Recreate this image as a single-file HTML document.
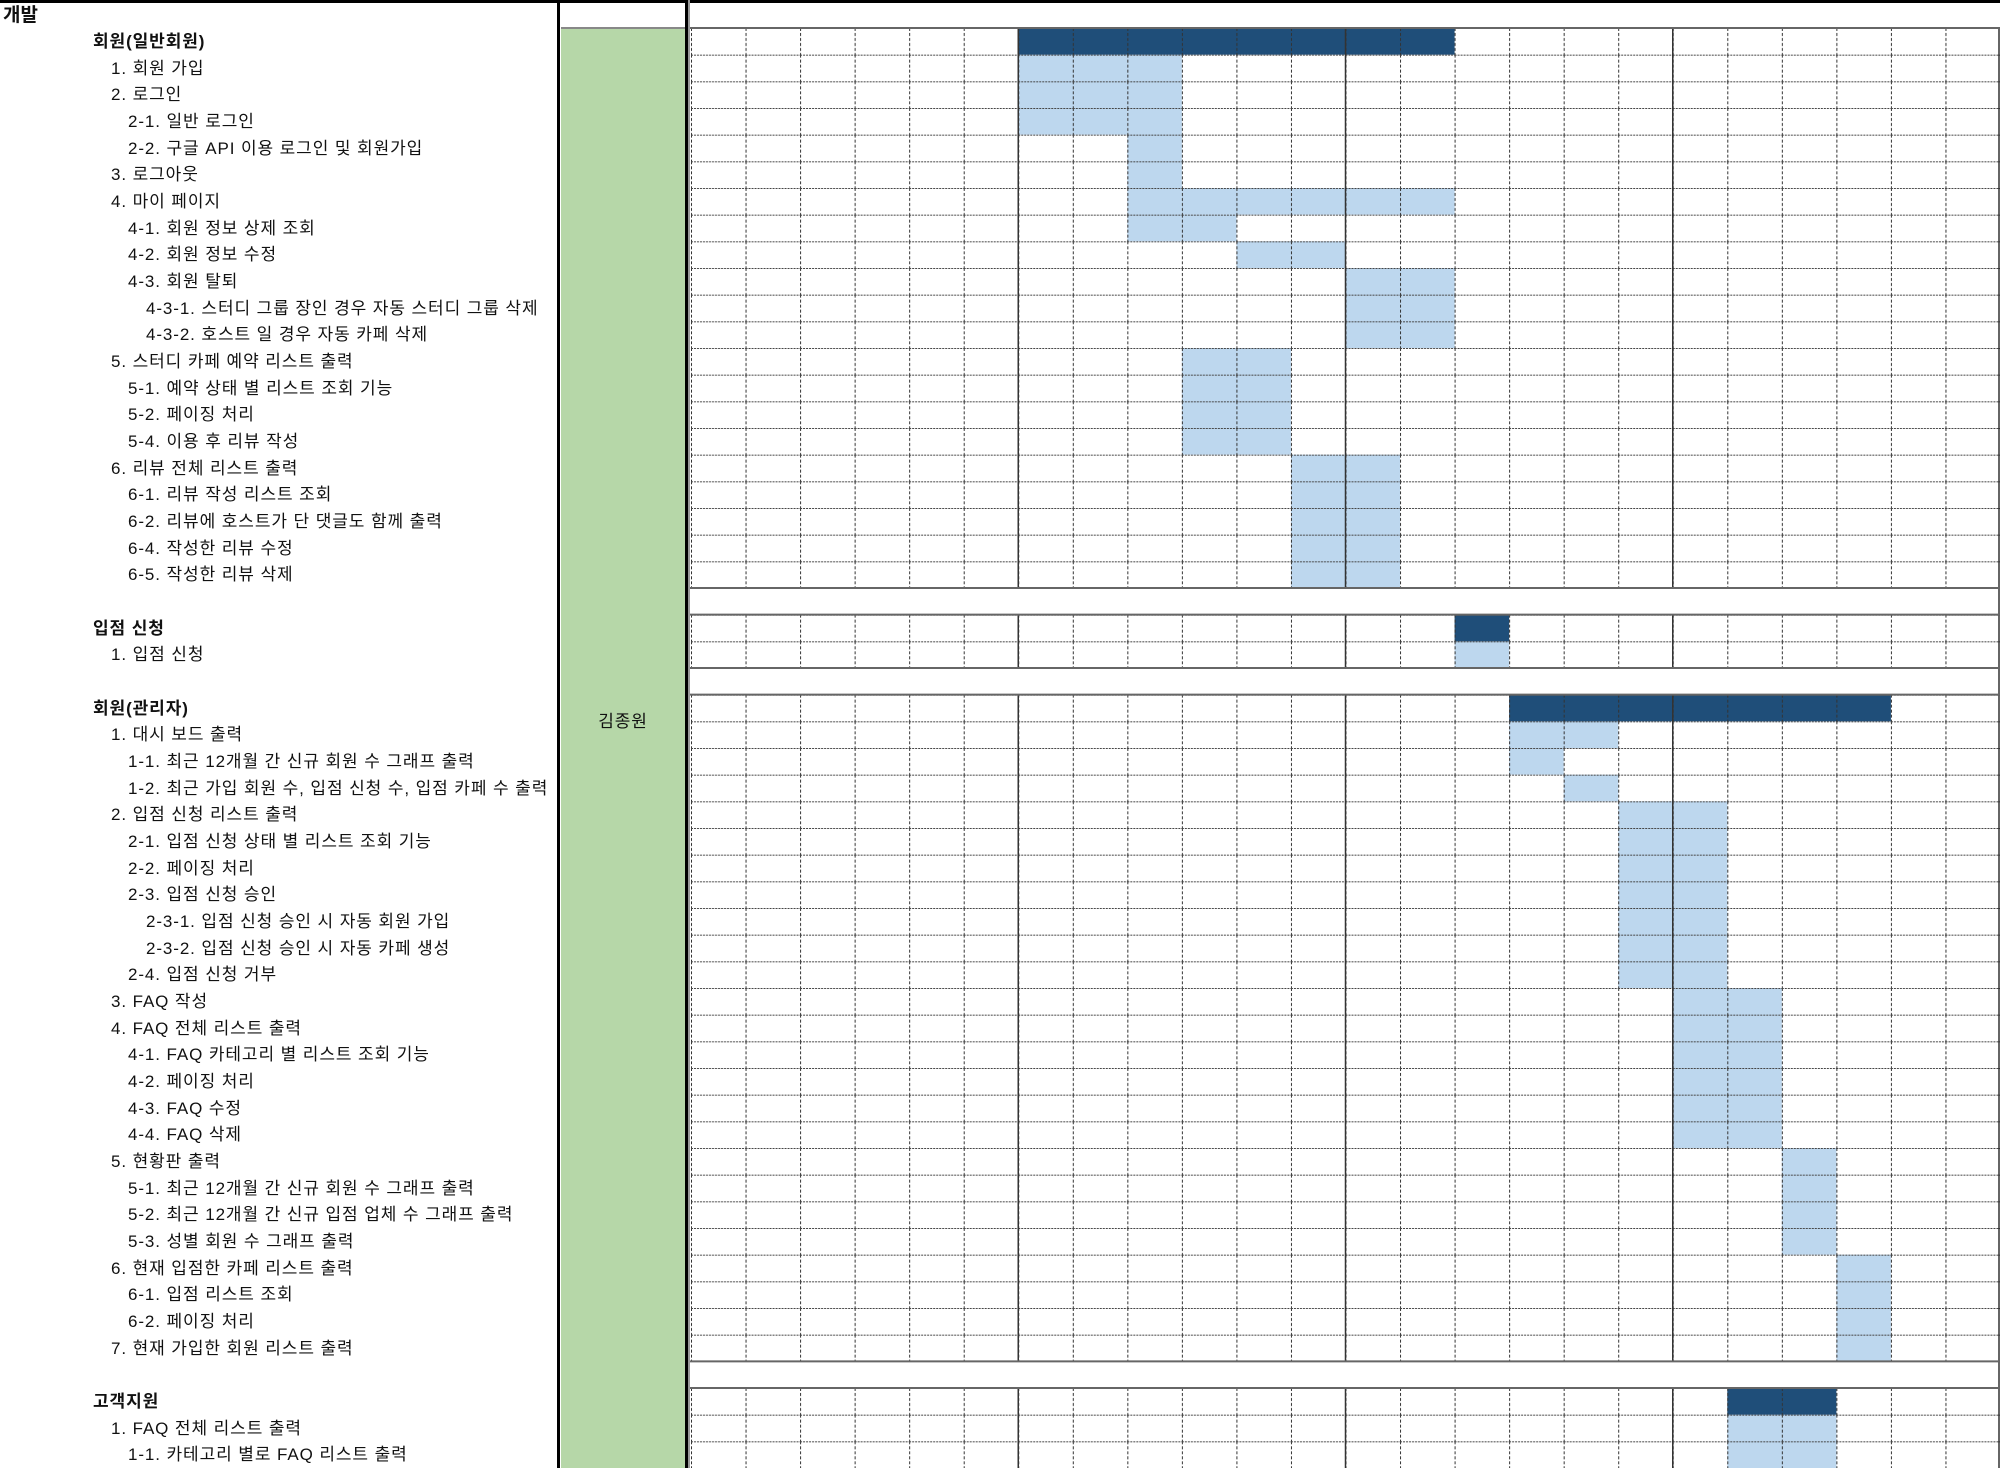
<!DOCTYPE html>
<html><head><meta charset="utf-8"><style>
html,body{margin:0;padding:0;background:#fff;}
svg{display:block;}
text{font-family:"Liberation Sans","Noto Sans CJK KR",sans-serif;font-size:17px;letter-spacing:0.9px;fill:#111;}
.b{font-weight:bold;}
</style></head><body>
<svg width="2000" height="1468" viewBox="0 0 2000 1468" xmlns="http://www.w3.org/2000/svg">
<defs>
<pattern id="g" patternUnits="userSpaceOnUse" x="691" y="28" width="54.5417" height="26.6667">
<line x1="0.5" y1="0" x2="0.5" y2="26.6667" stroke="#333" stroke-width="1" stroke-dasharray="3 2"/>
<line x1="0" y1="0.5" x2="54.5417" y2="0.5" stroke="#444" stroke-width="1" stroke-dasharray="2 1"/>
</pattern>
</defs>
<rect width="2000" height="1468" fill="#fff"/>
<rect x="561" y="28" width="125" height="1440" fill="#b6d7a8"/>
<g fill="#bdd7ee">
<rect x="1018.25" y="54.67" width="163.63" height="53.33"/>
<rect x="1018.25" y="108" width="109.08" height="26.67"/>
<rect x="1127.33" y="108" width="54.55" height="133.33"/>
<rect x="1181.88" y="188" width="272.7" height="26.67"/>
<rect x="1181.88" y="214.67" width="54.54" height="26.67"/>
<rect x="1236.42" y="241.33" width="109.08" height="26.67"/>
<rect x="1345.5" y="268" width="109.08" height="80"/>
<rect x="1181.88" y="348" width="109.08" height="106.67"/>
<rect x="1290.96" y="454.67" width="109.08" height="133.33"/>
<rect x="1454.58" y="641.33" width="54.55" height="26.67"/>
<rect x="1509.13" y="721.33" width="109.08" height="26.67"/>
<rect x="1509.13" y="748" width="54.54" height="26.67"/>
<rect x="1563.67" y="774.67" width="54.54" height="26.67"/>
<rect x="1618.21" y="801.33" width="109.08" height="186.67"/>
<rect x="1672.75" y="988" width="109.08" height="160"/>
<rect x="1781.83" y="1148" width="54.55" height="106.67"/>
<rect x="1836.38" y="1254.67" width="54.54" height="106.66"/>
<rect x="1727.29" y="1414.67" width="109.09" height="53.33"/>
</g>
<g fill="#1f4e79">
<rect x="1018.25" y="28" width="436.33" height="26.67"/>
<rect x="1454.58" y="614.67" width="54.55" height="26.66"/>
<rect x="1509.13" y="694.67" width="381.79" height="26.66"/>
<rect x="1727.29" y="1388" width="109.09" height="26.67"/>
</g>
<rect x="691" y="28" width="1309" height="560" fill="url(#g)"/>
<rect x="691" y="614.67" width="1309" height="53.33" fill="url(#g)"/>
<rect x="691" y="694.67" width="1309" height="666.66" fill="url(#g)"/>
<rect x="691" y="1388" width="1309" height="80" fill="url(#g)"/>
<g stroke="#333" stroke-width="1.5">
<line x1="1018.25" y1="28" x2="1018.25" y2="588"/><line x1="1345.5" y1="28" x2="1345.5" y2="588"/><line x1="1672.75" y1="28" x2="1672.75" y2="588"/>
<line x1="1018.25" y1="614.67" x2="1018.25" y2="668"/><line x1="1345.5" y1="614.67" x2="1345.5" y2="668"/><line x1="1672.75" y1="614.67" x2="1672.75" y2="668"/>
<line x1="1018.25" y1="694.67" x2="1018.25" y2="1361.33"/><line x1="1345.5" y1="694.67" x2="1345.5" y2="1361.33"/><line x1="1672.75" y1="694.67" x2="1672.75" y2="1361.33"/>
<line x1="1018.25" y1="1388" x2="1018.25" y2="1468"/><line x1="1345.5" y1="1388" x2="1345.5" y2="1468"/><line x1="1672.75" y1="1388" x2="1672.75" y2="1468"/>
<line x1="1999" y1="28" x2="1999" y2="1468"/>
</g>
<g stroke="#666" stroke-width="2">
<line x1="689" y1="28" x2="2000" y2="28"/>
<line x1="689" y1="588" x2="2000" y2="588"/>
<line x1="689" y1="614.67" x2="2000" y2="614.67"/>
<line x1="689" y1="668" x2="2000" y2="668"/>
<line x1="689" y1="694.67" x2="2000" y2="694.67"/>
<line x1="689" y1="1361.33" x2="2000" y2="1361.33"/>
<line x1="689" y1="1388" x2="2000" y2="1388"/>
<line x1="561" y1="28" x2="686" y2="28" stroke="#888"/>
</g>
<rect x="0" y="0" width="2000" height="3" fill="#000"/>
<rect x="557" y="0" width="3" height="1468" fill="#000"/>
<rect x="685" y="0" width="3" height="1468" fill="#000"/>
<rect x="688" y="0" width="2" height="1468" fill="#999"/>
<text x="3" y="21" class="b" style="font-size:19px;letter-spacing:0">개발</text>
<text x="623" y="727" text-anchor="middle">김종원</text>
<text x="93" y="47" class="b">회원(일반회원)</text>
<text x="111" y="74">1. 회원 가입</text>
<text x="111" y="100">2. 로그인</text>
<text x="128" y="127">2-1. 일반 로그인</text>
<text x="128" y="154">2-2. 구글 API 이용 로그인 및 회원가입</text>
<text x="111" y="180">3. 로그아웃</text>
<text x="111" y="207">4. 마이 페이지</text>
<text x="128" y="234">4-1. 회원 정보 상제 조회</text>
<text x="128" y="260">4-2. 회원 정보 수정</text>
<text x="128" y="287">4-3. 회원 탈퇴</text>
<text x="146" y="314">4-3-1. 스터디 그룹 장인 경우 자동 스터디 그룹 삭제</text>
<text x="146" y="340">4-3-2. 호스트 일 경우 자동 카페 삭제</text>
<text x="111" y="367">5. 스터디 카페 예약 리스트 출력</text>
<text x="128" y="394">5-1. 예약 상태 별 리스트 조회 기능</text>
<text x="128" y="420">5-2. 페이징 처리</text>
<text x="128" y="447">5-4. 이용 후 리뷰 작성</text>
<text x="111" y="474">6. 리뷰 전체 리스트 출력</text>
<text x="128" y="500">6-1. 리뷰 작성 리스트 조회</text>
<text x="128" y="527">6-2. 리뷰에 호스트가 단 댓글도 함께 출력</text>
<text x="128" y="554">6-4. 작성한 리뷰 수정</text>
<text x="128" y="580">6-5. 작성한 리뷰 삭제</text>
<text x="93" y="634" class="b">입점 신청</text>
<text x="111" y="660">1. 입점 신청</text>
<text x="93" y="714" class="b">회원(관리자)</text>
<text x="111" y="740">1. 대시 보드 출력</text>
<text x="128" y="767">1-1. 최근 12개월 간 신규 회원 수 그래프 출력</text>
<text x="128" y="794">1-2. 최근 가입 회원 수, 입점 신청 수, 입점 카페 수 출력</text>
<text x="111" y="820">2. 입점 신청 리스트 출력</text>
<text x="128" y="847">2-1. 입점 신청 상태 별 리스트 조회 기능</text>
<text x="128" y="874">2-2. 페이징 처리</text>
<text x="128" y="900">2-3. 입점 신청 승인</text>
<text x="146" y="927">2-3-1. 입점 신청 승인 시 자동 회원 가입</text>
<text x="146" y="954">2-3-2. 입점 신청 승인 시 자동 카페 생성</text>
<text x="128" y="980">2-4. 입점 신청 거부</text>
<text x="111" y="1007">3. FAQ 작성</text>
<text x="111" y="1034">4. FAQ 전체 리스트 출력</text>
<text x="128" y="1060">4-1. FAQ 카테고리 별 리스트 조회 기능</text>
<text x="128" y="1087">4-2. 페이징 처리</text>
<text x="128" y="1114">4-3. FAQ 수정</text>
<text x="128" y="1140">4-4. FAQ 삭제</text>
<text x="111" y="1167">5. 현황판 출력</text>
<text x="128" y="1194">5-1. 최근 12개월 간 신규 회원 수 그래프 출력</text>
<text x="128" y="1220">5-2. 최근 12개월 간 신규 입점 업체 수 그래프 출력</text>
<text x="128" y="1247">5-3. 성별 회원 수 그래프 출력</text>
<text x="111" y="1274">6. 현재 입점한 카페 리스트 출력</text>
<text x="128" y="1300">6-1. 입점 리스트 조회</text>
<text x="128" y="1327">6-2. 페이징 처리</text>
<text x="111" y="1354">7. 현재 가입한 회원 리스트 출력</text>
<text x="93" y="1407" class="b">고객지원</text>
<text x="111" y="1434">1. FAQ 전체 리스트 출력</text>
<text x="128" y="1460">1-1. 카테고리 별로 FAQ 리스트 출력</text>
</svg>
</body></html>
